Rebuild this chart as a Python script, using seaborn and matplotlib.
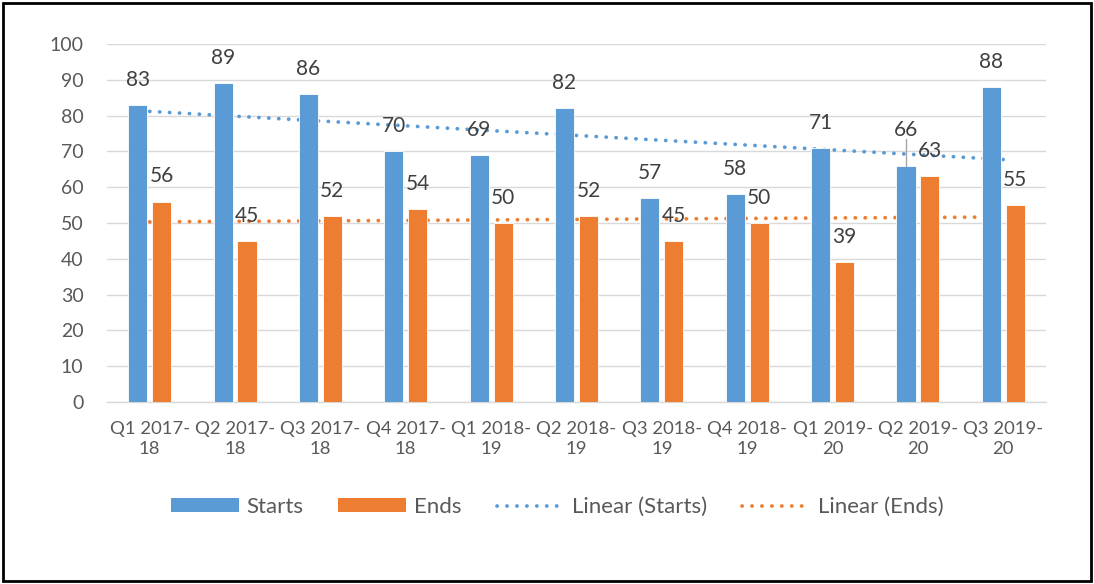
import numpy as np
import pandas as pd
import matplotlib
matplotlib.use("Agg")
import matplotlib.pyplot as plt
import seaborn as sns
from matplotlib.patches import Patch, Rectangle
from matplotlib.lines import Line2D

# ---------------- data ----------------
quarters = ["Q1 2017-18", "Q2 2017-18", "Q3 2017-18", "Q4 2017-18",
            "Q1 2018-19", "Q2 2018-19", "Q3 2018-19", "Q4 2018-19",
            "Q1 2019-20", "Q2 2019-20", "Q3 2019-20"]
starts = [83, 89, 86, 70, 69, 82, 57, 58, 71, 66, 88]
ends = [56, 45, 52, 54, 50, 52, 45, 50, 39, 63, 55]
series_names = ["Starts", "Ends"]
y_ticks = [0, 10, 20, 30, 40, 50, 60, 70, 80, 90, 100]

# ---------------- style ----------------
BLUE = "#5B9BD5"
ORANGE = "#ED7D31"
GRID = "#D9D9D9"
TXT = "#595959"
LBL = "#404040"
FS_XTICK = 13.3
FS_YTICK = 14
FS_LBL = 15
FS_LEG = 16

sns.set_theme(style="white")
plt.rcParams["font.family"] = ["Lato", "DejaVu Sans"]

df = pd.DataFrame({
    "Quarter": quarters * 2,
    "Series": [series_names[0]] * len(quarters) + [series_names[1]] * len(quarters),
    "Value": starts + ends,
})

fig = plt.figure(figsize=(10.94, 5.84), dpi=100)
ax = fig.add_axes([107 / 1094, 1 - 402 / 584, (1046 - 107) / 1094, (402 - 44) / 584])

sns.barplot(data=df, x="Quarter", y="Value", hue="Series", order=quarters,
            hue_order=series_names, palette=[BLUE, ORANGE], width=0.56, gap=0.2,
            edgecolor="white", linewidth=0.6, saturation=1, legend=False, ax=ax,
            zorder=3)

# trend lines (least squares fit over category index)
xs = np.arange(len(quarters))
DOT = (0, (0.05, 2.6))
for vals, col in [(starts, BLUE), (ends, ORANGE)]:
    m, b = np.polyfit(xs, vals, 1)
    ax.plot(xs, m * xs + b, color=col, lw=2.7, linestyle=DOT,
            dash_capstyle="round", zorder=2)

# data labels
label_offset = 7
for ci, (cont, vals) in enumerate(zip(ax.containers, [starts, ends])):
    for i, (bar, v) in enumerate(zip(cont, vals)):
        cx = bar.get_x() + bar.get_width() / 2
        off = label_offset
        if ci == 0 and i == 9:
            off = 10
            ax.plot([cx, cx], [v, v + 7.4], color="#A6A6A6", lw=1, zorder=4)
        ax.text(cx, v + off, str(v), ha="center", va="center", fontsize=FS_LBL,
                color=LBL, zorder=5)

# axes styling
ax.set_xlim(-0.5, len(quarters) - 0.5)
ax.set_ylim(0, 100)
ax.set_yticks(y_ticks)
ax.set_yticklabels([str(t) for t in y_ticks], fontsize=FS_YTICK, color=TXT)
ax.set_xticks(xs)
ax.set_xticklabels([q.replace("-", "-\n") for q in quarters], fontsize=FS_XTICK,
                   color=TXT, linespacing=1.25)
ax.set_xticks(np.arange(-0.5, len(quarters)), minor=True)
ax.tick_params(axis="x", which="major", length=0, pad=14)
ax.tick_params(axis="x", which="minor", length=5, color=GRID, width=1)
ax.tick_params(axis="y", length=0, pad=17)
ax.set_xlabel("")
ax.set_ylabel("")
ax.grid(axis="y", color=GRID, lw=1)
ax.grid(axis="x", visible=False)
ax.set_axisbelow(True)
for s in ["left", "right", "top"]:
    ax.spines[s].set_visible(False)
ax.spines["bottom"].set_color(GRID)
ax.spines["bottom"].set_linewidth(1)

# legend
handles = [
    Patch(facecolor=BLUE, edgecolor="none", label="Starts"),
    Patch(facecolor=ORANGE, edgecolor="none", label="Ends"),
    Line2D([0], [0], color=BLUE, lw=2.7, linestyle=DOT,
           dash_capstyle="round", label="Linear (Starts)"),
    Line2D([0], [0], color=ORANGE, lw=2.7, linestyle=DOT,
           dash_capstyle="round", label="Linear (Ends)"),
]
leg = fig.legend(handles=handles, loc="center", ncol=4,
                 bbox_to_anchor=(557 / 1094, 1 - 507 / 584), frameon=False,
                 fontsize=FS_LEG, handlelength=3.06, handleheight=0.6,
                 handletextpad=0.32, columnspacing=1.6)
for t in leg.get_texts():
    t.set_color(TXT)

# outer frame
fig.patches.append(Rectangle((3 / 1094, 3 / 584), 1088 / 1094, 578 / 584,
                             transform=fig.transFigure, fill=False,
                             edgecolor="black", lw=2))

fig.savefig("out.png", dpi=100)
